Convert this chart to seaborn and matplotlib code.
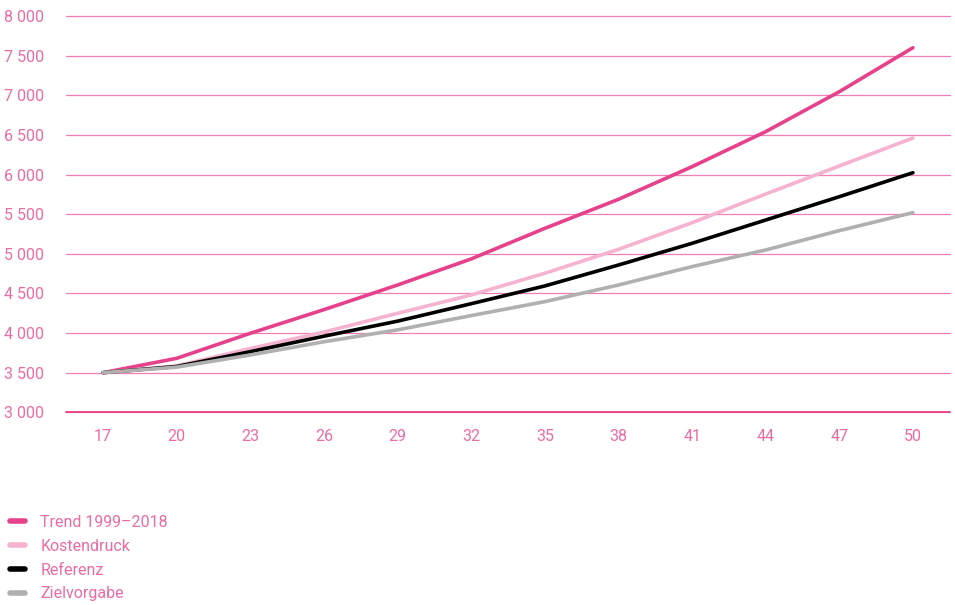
import matplotlib
matplotlib.use("Agg")
import matplotlib.pyplot as plt
import seaborn as sns
import pandas as pd
from matplotlib.lines import Line2D

years = [17, 20, 23, 26, 29, 32, 35, 38, 41, 44, 47, 50]
trend = [3500, 3681, 3997, 4295, 4606, 4935, 5321, 5687, 6099, 6541, 7045, 7600]
kostendruck = [3500, 3585, 3805, 4012, 4249, 4480, 4754, 5056, 5392, 5754, 6108, 6460]
referenz = [3500, 3578, 3765, 3960, 4150, 4370, 4594, 4858, 5132, 5426, 5720, 6023]
zielvorgabe = [3500, 3570, 3723, 3890, 4040, 4220, 4396, 4606, 4838, 5048, 5292, 5519]
series_names = ["Trend 1999–2018", "Kostendruck", "Referenz", "Zielvorgabe"]
yticks = [3000, 3500, 4000, 4500, 5000, 5500, 6000, 6500, 7000, 7500, 8000]
ytick_labels = ["3 000", "3 500", "4 000", "4 500", "5 000", "5 500", "6 000", "6 500", "7 000", "7 500", "8 000"]

colors = ["#e6418a", "#f5b3cf", "#000000", "#b0b0b0"]
pink_text = "#ec6ba4"

rows = []
for name, vals in zip(series_names, [trend, kostendruck, referenz, zielvorgabe]):
    for x, v in zip(years, vals):
        rows.append({"Jahr": x, "Wert": v, "Serie": name})
df = pd.DataFrame(rows)

sns.set_theme(style="white")
plt.rcParams["font.family"] = ["Roboto", "DejaVu Sans"]

fig = plt.figure(figsize=(9.55, 6.05), dpi=100)
ax = fig.add_axes([66 / 955, 1 - 412.3 / 605, (950 - 66) / 955, (412.3 - 16) / 605])

for y in yticks:
    ax.axhline(y, color="#f07fb2", lw=0.9, zorder=0, clip_on=False)
ax.axhline(3000, color="#e8408a", lw=1.3, zorder=1, clip_on=False)

sns.lineplot(data=df, x="Jahr", y="Wert", hue="Serie", hue_order=series_names,
             palette=colors, linewidth=2.6, ax=ax, legend=False, zorder=3)

ax.set_xlim(15.49, 51.51)
ax.set_ylim(3000, 8000)
ax.set_xticks(years)
ax.set_xticklabels([str(y) for y in years])
ax.set_yticks(yticks)
ax.set_yticklabels(ytick_labels)
ax.set_xlabel("")
ax.set_ylabel("")
for s in ax.spines.values():
    s.set_visible(False)
ax.tick_params(axis="both", length=0, colors=pink_text, labelsize=11.5)
ax.tick_params(axis="x", pad=12)
ax.tick_params(axis="y", pad=16)

handles = [Line2D([0], [0], color=c, lw=4) for c in colors]
leg = fig.legend(handles, series_names, loc="upper left", bbox_to_anchor=(10 / 955, 1 - 515 / 605),
                 frameon=False, fontsize=11.5, handlelength=0.95, handletextpad=0.95,
                 labelspacing=0.55, borderaxespad=0, borderpad=0)
for t in leg.get_texts():
    t.set_color(pink_text)

fig.savefig("out.png", dpi=100)
